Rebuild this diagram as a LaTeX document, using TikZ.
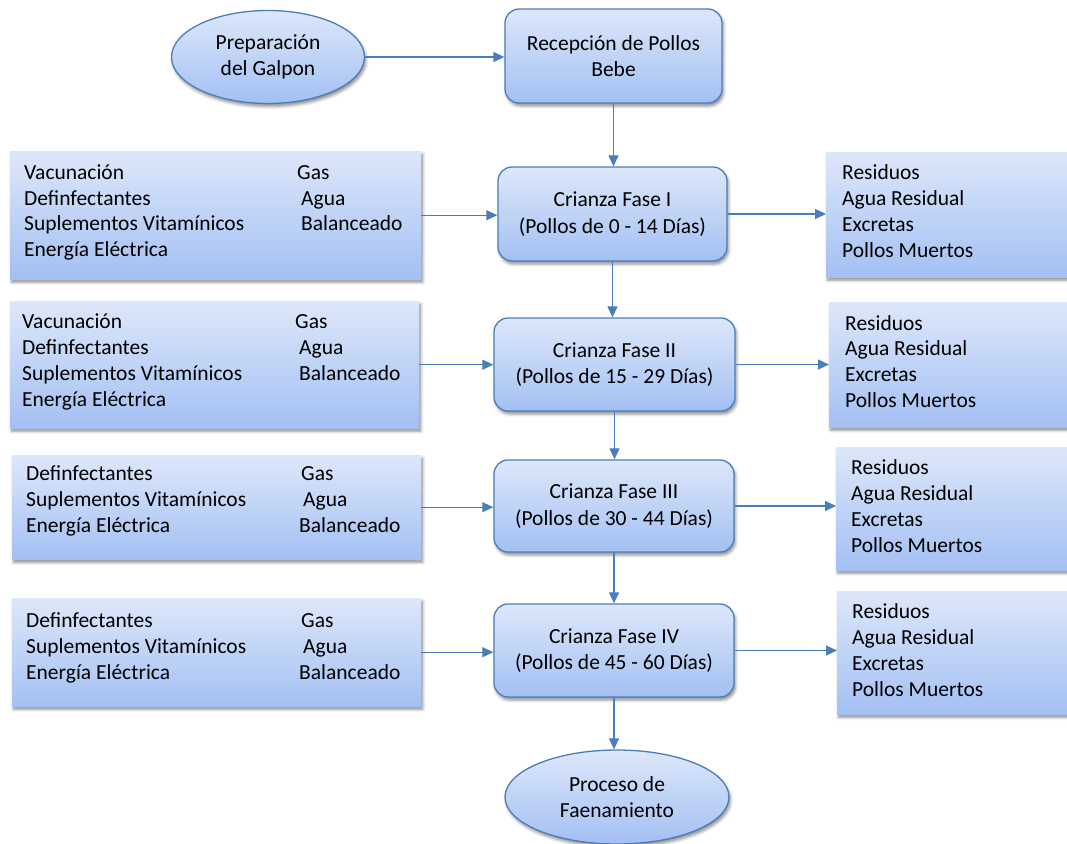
\documentclass[tikz,border=0pt]{standalone}
\usepackage{fontspec}
\setmainfont{Carlito}
\usetikzlibrary{arrows.meta,shapes.geometric,shadows.blur}
\definecolor{edgeblue}{HTML}{4A7EBB}
\definecolor{ftop}{HTML}{DDE7FA}
\definecolor{fbot}{HTML}{A3C0F3}
\tikzset{
  grad/.style={top color=ftop,bottom color=fbot,
    blur shadow={shadow xshift=1.5pt,shadow yshift=-3pt,shadow blur radius=3pt,shadow opacity=45}},
  listbox/.style={grad,draw=none,rectangle,anchor=north west,inner sep=0pt},
  stepbox/.style={grad,draw=edgeblue,line width=1.3pt,rounded corners=14pt,rectangle,
    align=center,inner sep=0pt,font=\fontsize{21.5}{26.5}\selectfont},
  oval/.style={grad,draw=edgeblue,line width=1.3pt,ellipse,inner sep=0pt,
    align=center,font=\fontsize{21.5}{26.5}\selectfont},
  arr/.style={draw=edgeblue,line width=1.2pt,-{Triangle[length=11pt,width=10pt]}},
  txt/.style={anchor=base west,inner sep=0pt,font=\fontsize{21.5}{26.5}\selectfont}
}
\begin{document}
\begin{tikzpicture}[x=1pt,y=-1pt]
\useasboundingbox (0,0) rectangle (1067,843);
% main flow
\node[oval,minimum width=193pt,minimum height=93pt] (prep) at (268,57) {Preparación\\del Galpon};
\node[stepbox,minimum width=217pt,minimum height=94pt] (rec) at (613.5,56) {Recepción de Pollos\\Bebe};
\node[stepbox,minimum width=229pt,minimum height=94pt] (f1) at (612.5,214) {Crianza Fase I\\(Pollos de 0 - 14 Días)};
\node[stepbox,minimum width=241pt,minimum height=93pt] (f2) at (614.5,364.5) {Crianza Fase II\\(Pollos de 15 - 29 Días)};
\node[stepbox,minimum width=240pt,minimum height=92pt] (f3) at (614,506) {Crianza Fase III\\(Pollos de 30 - 44 Días)};
\node[stepbox,minimum width=240pt,minimum height=93pt] (f4) at (614,650.5) {Crianza Fase IV\\(Pollos de 45 - 60 Días)};
\node[oval,minimum width=224pt,minimum height=94pt] (fae) at (617,797) {Proceso de\\Faenamiento};
% input boxes
\node[listbox,minimum width=411pt,minimum height=128pt] (in1) at (10,151) {};
\node[listbox,minimum width=409pt,minimum height=127pt] (in2) at (10,301) {};
\node[listbox,minimum width=409pt,minimum height=104pt] (in3) at (12,455) {};
\node[listbox,minimum width=409pt,minimum height=108pt] (in4) at (12,598) {};
% output boxes
\node[listbox,minimum width=241pt,minimum height=125pt] (out1) at (826,152) {};
\node[listbox,minimum width=238pt,minimum height=125pt] (out2) at (829,302) {};
\node[listbox,minimum width=231pt,minimum height=123pt] (out3) at (836,447) {};
\node[listbox,minimum width=230pt,minimum height=123pt] (out4) at (837,591) {};
% input texts
\node[txt] (a1) at (24,179) {Vacunación};
\node[txt] (a2) at (24,205) {Definfectantes};
\node[txt] (a3) at (24,230) {Suplementos Vitamínicos};
\node[txt] (a4) at (24,256) {Energía Eléctrica};
\node[txt] (a5) at (297,179) {Gas};
\node[txt] (a6) at (301,205) {Agua};
\node[txt] (a7) at (301,230) {Balanceado};
\node[txt] (b1) at (22,328) {Vacunación};
\node[txt] (b2) at (22,354) {Definfectantes};
\node[txt] (b3) at (22,380) {Suplementos Vitamínicos};
\node[txt] (b4) at (22,406) {Energía Eléctrica};
\node[txt] (b5) at (295,328) {Gas};
\node[txt] (b6) at (299,354) {Agua};
\node[txt] (b7) at (299,380) {Balanceado};
\node[txt] (c1) at (26,480) {Definfectantes};
\node[txt] (c2) at (26,506) {Suplementos Vitamínicos};
\node[txt] (c3) at (26,532) {Energía Eléctrica};
\node[txt] (c4) at (301,480) {Gas};
\node[txt] (c5) at (303,506) {Agua};
\node[txt] (c6) at (299,532) {Balanceado};
\node[txt] (d1) at (26,627) {Definfectantes};
\node[txt] (d2) at (26,653) {Suplementos Vitamínicos};
\node[txt] (d3) at (26,679) {Energía Eléctrica};
\node[txt] (d4) at (301,627) {Gas};
\node[txt] (d5) at (303,653) {Agua};
\node[txt] (d6) at (299,679) {Balanceado};
% output texts
\node[txt] (r11) at (842,179) {Residuos};
\node[txt] (r12) at (842,205) {Agua Residual};
\node[txt] (r13) at (842,231) {Excretas};
\node[txt] (r14) at (842,257) {Pollos Muertos};
\node[txt] (r21) at (845,330) {Residuos};
\node[txt] (r22) at (845,355) {Agua Residual};
\node[txt] (r23) at (845,381) {Excretas};
\node[txt] (r24) at (845,407) {Pollos Muertos};
\node[txt] (r31) at (851,474) {Residuos};
\node[txt] (r32) at (851,500) {Agua Residual};
\node[txt] (r33) at (851,526) {Excretas};
\node[txt] (r34) at (851,552) {Pollos Muertos};
\node[txt] (r41) at (852,618) {Residuos};
\node[txt] (r42) at (852,644) {Agua Residual};
\node[txt] (r43) at (852,670) {Excretas};
\node[txt] (r44) at (852,696) {Pollos Muertos};
% connectors
\draw[arr] (prep.east) -- (prep.east -| rec.west);
\draw[arr] (rec.south) -- (rec.south |- f1.north);
\draw[arr] (f1.south) -- (f1.south |- f2.north);
\draw[arr] (f2.south) -- (f2.south |- f3.north);
\draw[arr] (f3.south) -- (f3.south |- f4.north);
\draw[arr] (f4.south) -- (f4.south |- fae.north);
\draw[arr] (in1.east) -- (in1.east -| f1.west);
\draw[arr] (in2.east) -- (in2.east -| f2.west);
\draw[arr] (in3.east) -- (in3.east -| f3.west);
\draw[arr] (in4.east) -- (in4.east -| f4.west);
\draw[arr] (f1.east) -- (f1.east -| out1.west);
\draw[arr] (f2.east) -- (f2.east -| out2.west);
\draw[arr] (f3.east) -- (f3.east -| out3.west);
\draw[arr] (f4.east) -- (f4.east -| out4.west);
\end{tikzpicture}
\end{document}
